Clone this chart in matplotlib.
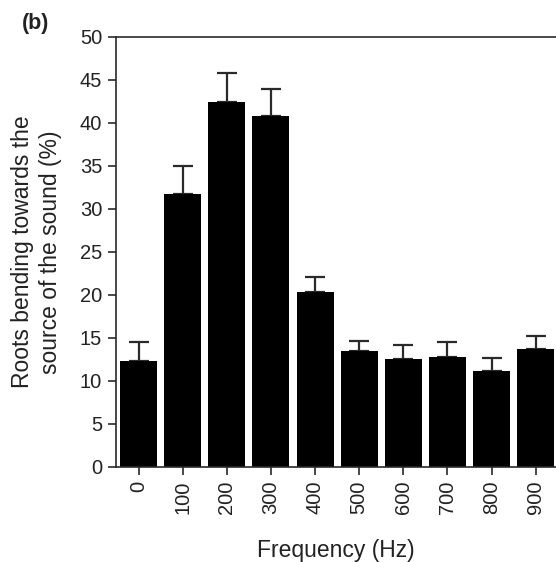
import numpy as np
from matplotlib import pyplot as plt

plt.rcParams["font.family"] = ["Liberation Sans", "DejaVu Sans"]

freqs = ["0", "100", "200", "300", "400", "500", "600", "700", "800", "900"]
means = [12.3, 31.7, 42.4, 40.8, 20.3, 13.5, 12.5, 12.8, 11.1, 13.7]
upper = [14.5, 35.0, 45.8, 44.0, 22.1, 14.6, 14.2, 14.5, 12.6, 15.2]

errs = np.array(upper) - np.array(means)
x = np.arange(len(freqs))

ink = "#2a2a2a"
fig = plt.figure(figsize=(5.56, 5.62), dpi=100)
ax = fig.add_axes([116 / 556, 1 - 466.7 / 562, 1 - 116 / 556, (466.7 - 37) / 562])

ax.bar(x, means, width=0.84, color="black", edgecolor="none", zorder=2)
ax.errorbar(x, means, yerr=[np.zeros_like(errs), errs], fmt="none",
            ecolor=ink, elinewidth=1.6, capsize=7.2, capthick=1.6, zorder=1)

ax.set_xlim(-0.51, 9.46)
ax.set_ylim(0, 50)
ax.set_yticks(np.arange(0, 51, 5))
ax.set_xticks(x)
ax.set_xticklabels(freqs, rotation=90)

for side in ["left", "bottom", "top"]:
    ax.spines[side].set_color(ink)
    ax.spines[side].set_linewidth(1.2)
ax.spines["right"].set_visible(False)
ax.tick_params(colors=ink, labelcolor="#222222", labelsize=14.5, width=1.2, length=6, pad=4)

ax.set_xlabel("Frequency (Hz)", fontsize=16.5, color="#222222", labelpad=18)
ax.set_ylabel("Roots bending towards the\nsource of the sound (%)", fontsize=16.5,
              color="#222222", labelpad=13, linespacing=1.25)

fig.text(22 / 556, 1 - 23 / 562, "(b)", fontsize=15.5, fontweight="bold",
         color="#222222", va="center", ha="left")

fig.savefig("out.png", dpi=100)
